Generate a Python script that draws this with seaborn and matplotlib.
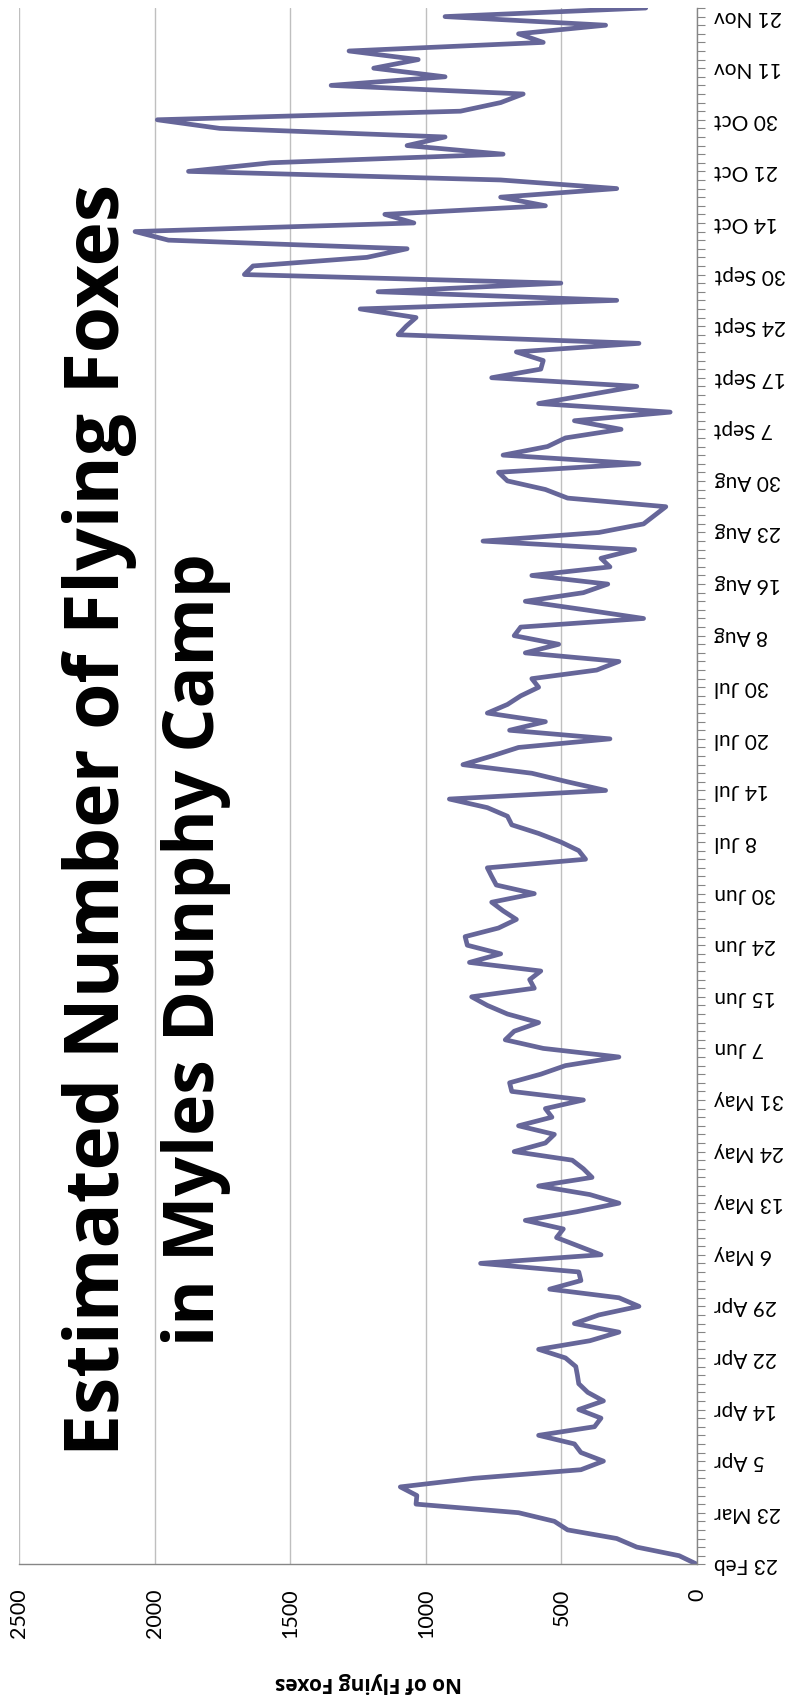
import matplotlib
matplotlib.use("Agg")
import matplotlib.pyplot as plt
import seaborn as sns
import numpy as np
import pandas as pd

# observation labels (one every 6 counts)
date_labels = ["23 Feb", "23 Mar", "5 Apr", "14 Apr", "22 Apr", "29 Apr", "6 May",
               "13 May", "24 May", "31 May", "7 Jun", "15 Jun", "24 Jun", "30 Jun",
               "8 Jul", "14 Jul", "20 Jul", "30 Jul", "8 Aug", "16 Aug", "23 Aug",
               "30 Aug", "7 Sept", "17 Sept", "24 Sept", "30 Sept", "14 Oct",
               "21 Oct", "30 Oct", "11 Nov", "21 Nov"]

# estimated number of flying foxes, one value per count
fox_counts = [
    0, 66, 222, 296, 477, 526, 658, 1036, 1033, 1094,
    822, 428, 345, 428, 452, 584, 378, 354, 436, 345,
    403, 436, 441, 447, 485, 584, 395, 288, 452, 362,
    214, 288, 543, 428, 436, 798, 354, 436, 518, 493,
    633, 444, 288, 395, 584, 387, 419, 460, 674, 559,
    526, 658, 535, 559, 419, 683, 691, 576, 485, 288,
    567, 707, 674, 584, 699, 773, 831, 600, 617, 576,
    839, 724, 847, 855, 732, 666, 715, 757, 600, 740,
    757, 773, 411, 436, 502, 584, 683, 699, 773, 913,
    337, 477, 609, 863, 757, 658, 321, 691, 559, 773,
    699, 650, 584, 609, 370, 288, 633, 510, 674, 650,
    197, 411, 633, 419, 329, 609, 321, 354, 230, 789,
    362, 197, 156, 115, 477, 559, 699, 732, 214, 715,
    551, 485, 280, 452, 99, 584, 403, 222, 757, 576,
    567, 666, 214, 1102, 1072, 1036, 1242, 296, 1176, 502,
    1669, 1637, 1217, 1069, 1949, 2072, 1044, 1151, 559, 724,
    296, 724, 1875, 1571, 715, 1069, 929, 1760, 1990, 872,
    724, 641, 1349, 929, 1192, 1028, 1283, 567, 658, 337,
    929, 189,
]

df = pd.DataFrame({"obs": np.arange(len(fox_counts)), "count": fox_counts})

sns.set_style("white")
plt.rcParams["font.family"] = ["Lato", "DejaVu Sans"]
plt.rcParams["text.color"] = "black"
plt.rcParams["xtick.labelcolor"] = "black"
plt.rcParams["ytick.labelcolor"] = "black"
bold_font = ["Open Sans", "DejaVu Sans"]

W, H = 795, 1704
fig = plt.figure(figsize=(W / 100, H / 100), dpi=100)
x0, x1, y_bot, y_top = 19, 697, 1564.3, 8
ax = fig.add_axes([x0 / W, 1 - y_bot / H, (x1 - x0) / W, (y_bot - y_top) / H])

sns.lineplot(data=df, x="count", y="obs", orient="y", sort=False, estimator=None,
             color="#666699", linewidth=3.4, ax=ax)

ax.set_xlim(2500, 0)
ax.set_ylim(0, len(fox_counts) - 1)
ax.set_xticks([0, 500, 1000, 1500, 2000, 2500])
ax.xaxis.grid(True, color="#BFBFBF", linewidth=1)
ax.yaxis.grid(False)

for side in ["top", "left"]:
    ax.spines[side].set_visible(False)
for side in ["right", "bottom"]:
    ax.spines[side].set_color("#868686")
    ax.spines[side].set_linewidth(1)

ax.yaxis.tick_right()
ax.set_yticks(np.arange(0, len(fox_counts), 6))
ax.set_yticks(np.arange(len(fox_counts)), minor=True)
ax.set_yticklabels(date_labels, rotation=180, ha="left", va="center", fontsize=15)
ax.tick_params(axis="y", which="both", direction="out", length=5.5, width=0.8,
               color="#868686", labelcolor="black", pad=7)
ax.tick_params(axis="x", direction="out", length=5.5, width=0.8, color="#868686",
               labelcolor="black", pad=12, labelsize=15.5, labelrotation=90)
ax.set_xlabel("")
ax.set_ylabel("")

fig.text(368 / W, 1 - 1682 / H, "No of Flying Foxes", rotation=180, ha="center",
         va="center", fontsize=15, fontweight="bold", family=bold_font)

fig.text(100 / W, 1 - 820 / H, "Estimated Number of Flying Foxes", rotation=90,
         ha="center", va="center", fontsize=54, fontweight="bold", family=bold_font)
fig.text(196 / W, 1 - 950 / H, "in Myles Dunphy Camp", rotation=90,
         ha="center", va="center", fontsize=50, fontweight="bold", family=bold_font)

fig.savefig("out.png", dpi=100)
